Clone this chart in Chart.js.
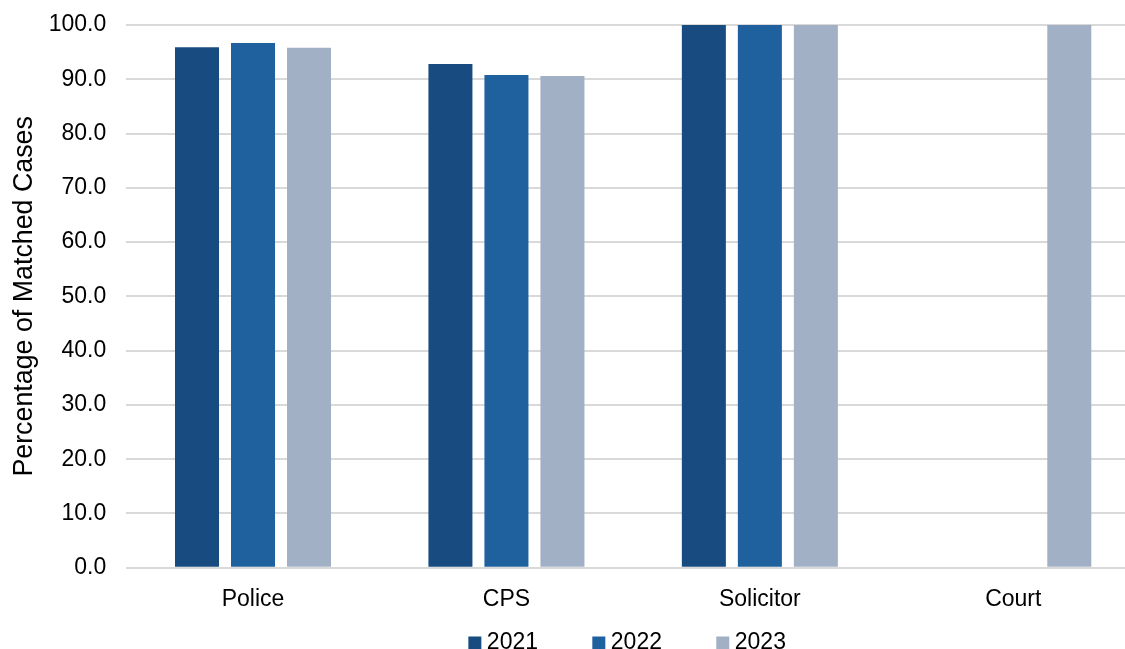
<!DOCTYPE html>
<html>
<head>
<meta charset="utf-8">
<script src="https://cdn.jsdelivr.net/npm/chart.js@4/dist/chart.umd.min.js"></script>
<style>
  html, body { margin: 0; padding: 0; background: #fff; overflow: hidden; width: 1125px; height: 649px; }
  canvas { display: block; }
</style>
</head>
<body>
<canvas id="c" width="1140" height="703"></canvas>
<script>
const categories = ['Police', 'CPS', 'Solicitor', 'Court'];
const seriesNames = ['2021', '2022', '2023'];
const values2021 = [95.9, 92.8, 100.0, null];
const values2022 = [96.7, 90.8, 100.0, null];
const values2023 = [95.8, 90.6, 100.0, 100.0];
const yTicks = [0, 10, 20, 30, 40, 50, 60, 70, 80, 90, 100];
const yTitle = 'Percentage of Matched Cases';

const colors = ['#184C80', '#1F609E', '#A2B0C6'];
const FONT = '"Liberation Sans", Arial, sans-serif';

// moves the library legend box closer to the axis (spacing only)
const legendPlace = {
  id: 'legendPlace',
  afterLayout(chart) {
    const l = chart.legend;
    if (!l) return;
    const dy = l.top - (chart.chartArea.bottom + 3.5);
    const dx = 3;
    l.top -= dy; l.bottom -= dy;
    l.left -= dx; l.right -= dx;
  }
};

new Chart(document.getElementById('c'), {
  type: 'bar',
  data: {
    labels: categories,
    datasets: [
      { label: seriesNames[0], data: values2021, backgroundColor: colors[0] },
      { label: seriesNames[1], data: values2022, backgroundColor: colors[1] },
      { label: seriesNames[2], data: values2023, backgroundColor: colors[2] }
    ].map(d => Object.assign(d, { borderWidth: 0, categoryPercentage: 0.663, barPercentage: 0.786 }))
  },
  plugins: [legendPlace],
  options: {
    responsive: false,
    animation: false,
    devicePixelRatio: 1,
    layout: { padding: { top: 25, left: 0, right: 0, bottom: 0 } },
    plugins: {
      tooltip: { enabled: false },
      legend: {
        position: 'bottom',
        fullSize: false,
        labels: {
          font: { family: FONT, size: 23 },
          color: '#000',
          usePointStyle: true,
          pointStyle: 'rect',
          boxWidth: 1,
          boxHeight: 13,
          padding: 60.3
        }
      }
    },
    scales: {
      x: {
        grid: { display: false },
        border: { display: false },
        ticks: { font: { family: FONT, size: 23 }, color: '#000', padding: 10 },
        afterFit: s => { s.height = 42; }
      },
      y: {
        min: 0,
        max: 100,
        afterBuildTicks: s => { s.ticks = yTicks.map(v => ({ value: v })); },
        grid: { color: '#d9d9d9', lineWidth: 2, drawTicks: true, tickLength: 20, tickColor: 'rgba(0,0,0,0)' },
        border: { display: false },
        ticks: {
          font: { family: FONT, size: 23 },
          color: '#000',
          padding: 0,
          callback: v => Number(v).toFixed(1)
        },
        title: {
          display: true,
          text: yTitle,
          font: { family: FONT, size: 26.8 },
          color: '#000',
          padding: { top: 8.4, bottom: 0 }
        },
        afterFit: s => { s.width = 126.3; }
      }
    }
  }
});
</script>
</body>
</html>
